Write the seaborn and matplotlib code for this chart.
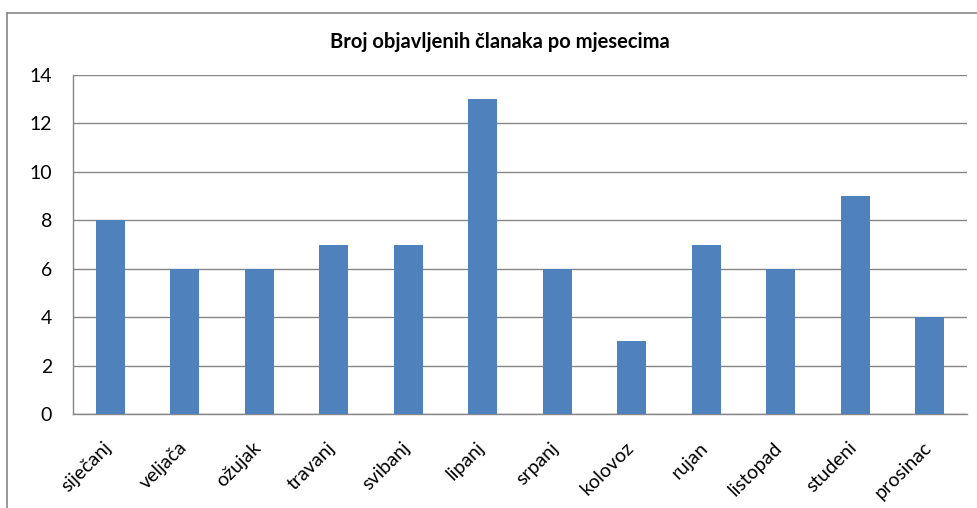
import matplotlib
matplotlib.use("Agg")
import matplotlib.pyplot as plt
import matplotlib.transforms as mtransforms
import seaborn as sns
import pandas as pd
from matplotlib.lines import Line2D

months = ["siječanj", "veljača", "ožujak", "travanj", "svibanj", "lipanj",
          "srpanj", "kolovoz", "rujan", "listopad", "studeni", "prosinac"]
counts = [8, 6, 6, 7, 7, 13, 6, 3, 7, 6, 9, 4]
yticks = [0, 2, 4, 6, 8, 10, 12, 14]
title = "Broj objavljenih članaka po mjesecima"

sns.set_theme(style="white")
plt.rcParams['font.family'] = ['Lato', 'DejaVu Sans']

df = pd.DataFrame({"mjesec": months, "broj": counts})

W, H = 978, 508
fig = plt.figure(figsize=(W / 100, H / 100), dpi=100)
ax = fig.add_axes([73 / W, (H - 414) / H, (967 - 73) / W, (414 - 75) / H])

sns.barplot(data=df, x="mjesec", y="broj", color="#4F81BD", width=0.39,
            saturation=1, linewidth=0, ax=ax, zorder=3)

ax.set_ylim(0, 14)
ax.set_yticks(yticks)
ax.set_yticklabels([str(v) for v in yticks], fontsize=14, color="#000000")
ax.yaxis.grid(True, color="#868686", linewidth=1, zorder=0)
ax.set_axisbelow(True)
ax.set_xlabel("")
ax.set_ylabel("")
ax.tick_params(axis="y", length=0, pad=15)
ax.tick_params(axis="x", length=0, pad=18)
offset = mtransforms.ScaledTranslation(-7 / 100, 0, fig.dpi_scale_trans)
for lab in ax.get_xticklabels():
    lab.set_rotation(45)
    lab.set_ha("right")
    lab.set_rotation_mode("anchor")
    lab.set_fontsize(14)
    lab.set_color("#000000")
    lab.set_transform(lab.get_transform() + offset)

for s in ["top", "right"]:
    ax.spines[s].set_visible(False)
for s in ["left", "bottom"]:
    ax.spines[s].set_visible(True)
    ax.spines[s].set_color("#868686")
    ax.spines[s].set_linewidth(1)

fig.text(500 / W, 1 - 42 / H, title, ha="center", va="center",
         fontsize=14.5, fontweight="bold", color="#000000")

# chart border (top and left visible)
fig.add_artist(Line2D([7 / W, 1], [1 - 13 / H, 1 - 13 / H], color="#868686", linewidth=1.2))
fig.add_artist(Line2D([7 / W, 7 / W], [0, 1 - 13 / H], color="#868686", linewidth=1.2))

fig.savefig("out.png", dpi=100, facecolor="white")
